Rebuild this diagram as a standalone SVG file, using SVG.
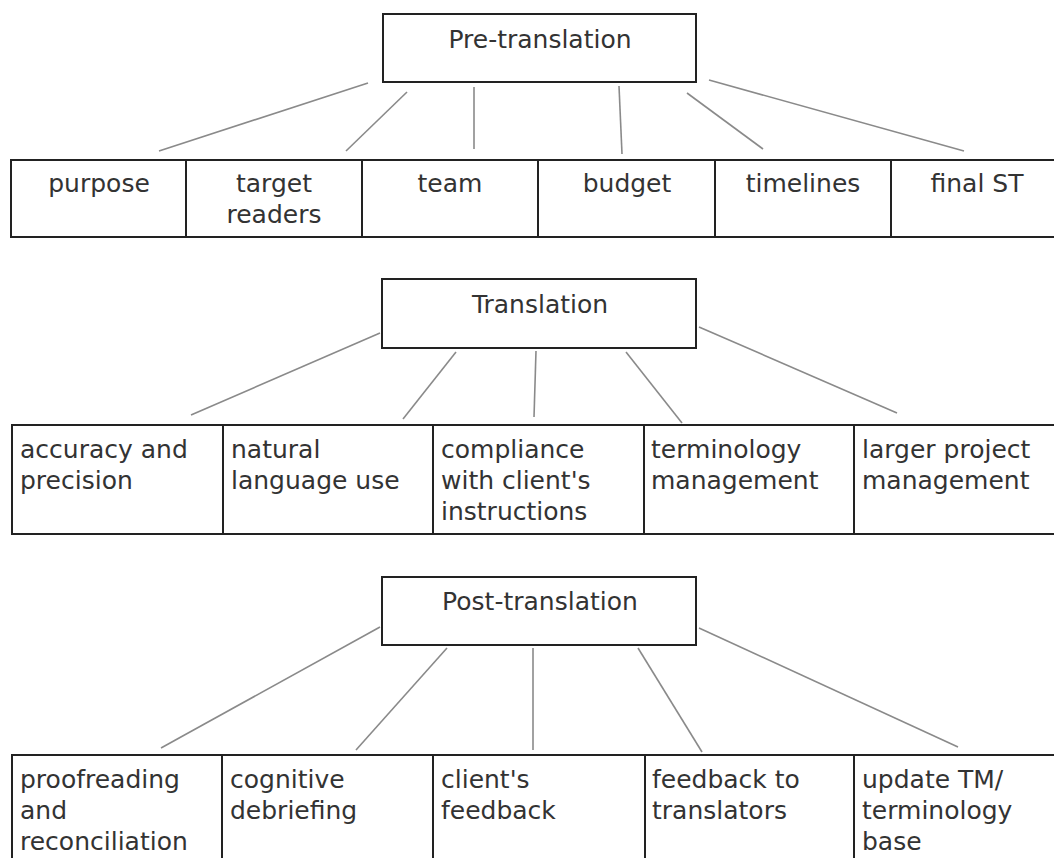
<svg xmlns="http://www.w3.org/2000/svg" width="1054" height="858" viewBox="0 0 1054 858">
<style>
.box{fill:#fff;stroke:#222;stroke-width:2}
.ln{stroke:#8a8a8a;stroke-width:1.6;fill:none}
text{font-family:"DejaVu Sans","Liberation Sans",sans-serif;font-size:25px;fill:#333}
.c{text-anchor:middle}
</style>
<rect width="1054" height="858" fill="#fff"/>
<g id="connectors">
<line class="ln" x1="368" y1="83" x2="159" y2="151"/>
<line class="ln" x1="407" y1="92" x2="346" y2="151"/>
<line class="ln" x1="474" y1="87" x2="474" y2="149"/>
<line class="ln" x1="619" y1="86" x2="622" y2="154"/>
<line class="ln" x1="687" y1="93" x2="763" y2="149"/>
<line class="ln" x1="709" y1="80" x2="964" y2="151"/>
<line class="ln" x1="380" y1="333" x2="191" y2="415"/>
<line class="ln" x1="456" y1="352" x2="403" y2="419"/>
<line class="ln" x1="536" y1="351" x2="534" y2="417"/>
<line class="ln" x1="626" y1="352" x2="682" y2="423"/>
<line class="ln" x1="699" y1="327" x2="897" y2="413"/>
<line class="ln" x1="380" y1="627" x2="161" y2="748"/>
<line class="ln" x1="447" y1="648" x2="356" y2="750"/>
<line class="ln" x1="533" y1="648" x2="533" y2="750"/>
<line class="ln" x1="638" y1="648" x2="702" y2="752"/>
<line class="ln" x1="699" y1="628" x2="958" y2="747"/>
</g>
<g id="pre-translation"><rect class="box" x="383" y="14" width="313" height="68"/><text class="c" x="540" y="48">Pre-translation</text></g>
<g id="purpose"><rect class="box" x="11" y="160" width="175" height="77"/><text class="c" x="99" y="192">purpose</text></g>
<g id="target-readers"><rect class="box" x="186" y="160" width="176" height="77"/><text class="c" x="274" y="192">target</text><text class="c" x="274" y="223">readers</text></g>
<g id="team"><rect class="box" x="362" y="160" width="176" height="77"/><text class="c" x="450" y="192">team</text></g>
<g id="budget"><rect class="box" x="538" y="160" width="177" height="77"/><text class="c" x="627" y="192">budget</text></g>
<g id="timelines"><rect class="box" x="715" y="160" width="176" height="77"/><text class="c" x="803" y="192">timelines</text></g>
<g id="final-st"><rect class="box" x="891" y="160" width="172" height="77"/><text class="c" x="977" y="192">final ST</text></g>
<g id="translation"><rect class="box" x="382" y="279" width="314" height="69"/><text class="c" x="540" y="313">Translation</text></g>
<g id="accuracy"><rect class="box" x="12" y="425" width="211" height="109"/><text x="20" y="458">accuracy and</text><text x="20" y="489">precision</text></g>
<g id="natural"><rect class="box" x="223" y="425" width="210" height="109"/><text x="231" y="458">natural</text><text x="231" y="489">language use</text></g>
<g id="compliance"><rect class="box" x="433" y="425" width="211" height="109"/><text x="441" y="458">compliance</text><text x="441" y="489">with client's</text><text x="441" y="520">instructions</text></g>
<g id="terminology"><rect class="box" x="644" y="425" width="210" height="109"/><text x="651" y="458">terminology</text><text x="651" y="489">management</text></g>
<g id="larger"><rect class="box" x="854" y="425" width="212" height="109"/><text x="862" y="458">larger project</text><text x="862" y="489">management</text></g>
<g id="post-translation"><rect class="box" x="382" y="577" width="314" height="68"/><text class="c" x="540" y="610">Post-translation</text></g>
<g id="proofreading"><rect class="box" x="12" y="755" width="210" height="120"/><text x="20" y="788">proofreading</text><text x="20" y="819">and</text><text x="20" y="850">reconciliation</text></g>
<g id="cognitive"><rect class="box" x="222" y="755" width="211" height="120"/><text x="230" y="788">cognitive</text><text x="230" y="819">debriefing</text></g>
<g id="clients-feedback"><rect class="box" x="433" y="755" width="212" height="120"/><text x="441" y="788">client's</text><text x="441" y="819">feedback</text></g>
<g id="feedback-translators"><rect class="box" x="645" y="755" width="209" height="120"/><text x="652" y="788">feedback to</text><text x="652" y="819">translators</text></g>
<g id="update-tm"><rect class="box" x="854" y="755" width="212" height="120"/><text x="862" y="788">update TM/</text><text x="862" y="819">terminology</text><text x="862" y="850">base</text></g>
</svg>
